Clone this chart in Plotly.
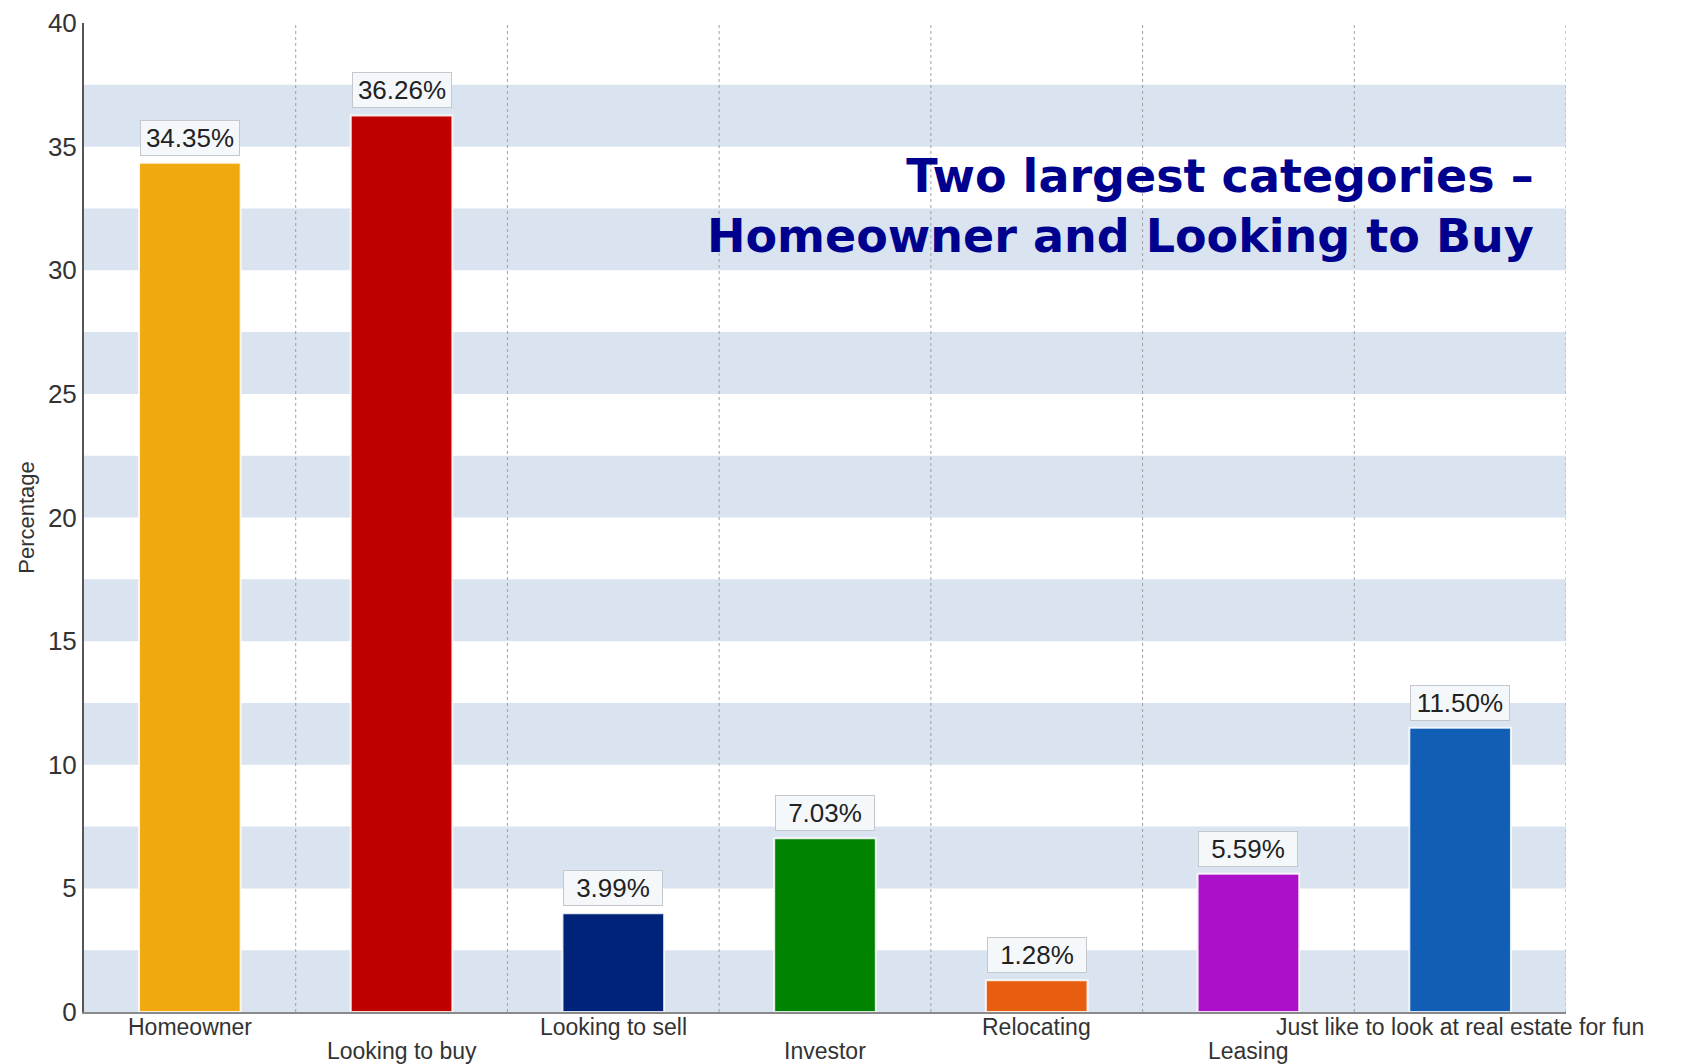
import plotly.graph_objects as go

categories = ["Homeowner", "Looking to buy", "Looking to sell", "Investor",
              "Relocating", "Leasing", "Just like to look at real estate for fun"]
values = [34.35, 36.26, 3.99, 7.03, 1.28, 5.59, 11.50]
colors = ["#F0A90E", "#BE0000", "#00237A", "#008300", "#E85E10", "#AC10C8", "#105EB6"]
y_ticks = [0, 5, 10, 15, 20, 25, 30, 35, 40]
band_starts = [0, 5, 10, 15, 20, 25, 30, 35]
band_height = 2.5
headline = "Two largest categories –<br>Homeowner and Looking to Buy"

fig = go.Figure()
fig.add_trace(go.Bar(
    x=list(range(len(categories))), y=values,
    marker=dict(color=colors, line=dict(color="rgba(255,255,255,0.85)", width=2)),
    width=0.48, hoverinfo="skip", showlegend=False,
))

shapes = []
for b in band_starts:
    shapes.append(dict(type="rect", xref="paper", yref="y", x0=0, x1=1,
                       y0=b, y1=b + band_height, fillcolor="#D9E4F0",
                       line=dict(width=0), layer="below"))
for i in range(len(categories)):
    shapes.append(dict(type="line", xref="x", yref="paper", x0=i + 0.5, x1=i + 0.5,
                       y0=0, y1=1, line=dict(color="#A0A0A0", width=1, dash="dot"),
                       layer="below"))
fig.update_layout(shapes=shapes)

# value labels in boxes
for i, v in enumerate(values):
    fig.add_annotation(x=i, y=v, text=f"{v:.2f}%", showarrow=False,
                       yanchor="bottom", yshift=7, width=94,
                       font=dict(family="Liberation Sans, Arial", size=26, color="#222222"),
                       bgcolor="#F5F8FB", bordercolor="#C4C8CC", borderwidth=1, borderpad=2)

# staggered category labels (every other one one line lower)
for i, c in enumerate(categories):
    fig.add_annotation(x=i, xref="x", yref="paper", y=0, text=c, showarrow=False,
                       yanchor="middle", yshift=-15 if i % 2 == 0 else -39,
                       font=dict(family="Liberation Sans, Arial", size=23, color="#333333"))

fig.add_annotation(xref="paper", yref="y", x=0.98, y=32.6, text=headline,
                   showarrow=False, xanchor="right", yanchor="middle", align="right",
                   font=dict(family="DejaVu Sans", size=46, color="#00008E", weight="bold"))

fig.update_layout(
    width=1674, height=1056,
    margin=dict(l=76, r=116, t=15, b=52, autoexpand=False),
    plot_bgcolor="white", paper_bgcolor="white",
    xaxis=dict(
        range=[-0.5, len(categories) - 0.5], automargin=False, showticklabels=False,
        showgrid=False, zeroline=False, showline=True, linecolor="#8A8A8A", linewidth=2,
        ticks="",
    ),
    yaxis=dict(
        range=[0, 40], tickvals=y_ticks, showgrid=False, zeroline=False, automargin=False,
        showline=True, linecolor="#555555", linewidth=2, ticks="",
        ticklabeloverflow="allow",
        tickfont=dict(family="Liberation Sans, Arial", size=26, color="#333333"),
        title=dict(text="Percentage", font=dict(family="Liberation Sans, Arial", size=22, color="#333333"),
                   standoff=7),
    ),
)

fig.write_html("out.html")
